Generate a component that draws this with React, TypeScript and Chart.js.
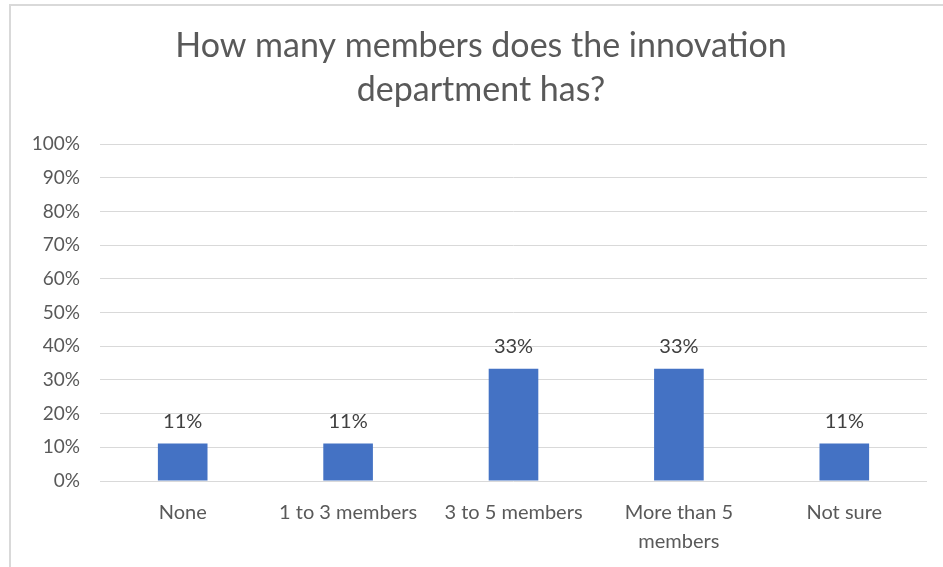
import React, { useEffect, useRef } from "react";
import { Chart, registerables } from "chart.js";

Chart.register(...registerables);

const TITLE_LINES = ["How many members does the innovation", "department has?"];
const CATEGORIES: (string | string[])[] = [
  "None",
  "1 to 3 members",
  "3 to 5 members",
  ["More than 5", "members"],
  "Not sure",
];
const VALUES = [11.11, 11.11, 33.33, 33.33, 11.11];
const Y_MAX = 100;
const Y_STEP = 10;

const FONT = "Lato, 'Open Sans', sans-serif";

const dataLabelPlugin = {
  id: "dataLabels",
  afterDatasetsDraw(chart: any) {
    const ctx = chart.ctx;
    const meta = chart.getDatasetMeta(0);
    ctx.save();
    ctx.fillStyle = "#404040";
    ctx.font = `20px ${FONT}`;
    ctx.textAlign = "center";
    ctx.textBaseline = "alphabetic";
    meta.data.forEach((bar: any, i: number) => {
      const v = chart.data.datasets[0].data[i] as number;
      ctx.fillText(Math.round(v) + "%", bar.x, bar.y - 16);
    });
    ctx.restore();
  },
};

const titlePlugin = {
  id: "centeredTitle",
  afterDraw(chart: any) {
    const ctx = chart.ctx;
    ctx.save();
    ctx.fillStyle = "#595959";
    ctx.font = `34px ${FONT}`;
    ctx.textAlign = "center";
    ctx.textBaseline = "middle";
    TITLE_LINES.forEach((line, i) => {
      ctx.fillText(line, 481, 46 + i * 44);
    });
    ctx.restore();
  },
};

export default function App() {
  const ref = useRef<HTMLCanvasElement | null>(null);
  useEffect(() => {
    if (!ref.current) return;
    const chart = new Chart(ref.current, {
      type: "bar",
      data: {
        labels: CATEGORIES as any,
        datasets: [
          {
            data: VALUES,
            backgroundColor: "#4472C4",
            barPercentage: 0.3,
            categoryPercentage: 1,
          },
        ],
      },
      options: {
        animation: false,
        responsive: false,
        maintainAspectRatio: false,
        layout: { padding: { left: 0, right: 16, top: 144, bottom: -6 } },
        plugins: {
          legend: { display: false },
          tooltip: { enabled: false },
          title: { display: false },
        },
        scales: {
          x: {
            grid: { display: false, drawTicks: false },
            border: { display: false },
            ticks: {
              color: "#595959",
              font: { family: FONT, size: 20, lineHeight: 1.45 },
              padding: 17,
              maxRotation: 0,
              autoSkip: false,
            },
          },
          y: {
            min: 0,
            max: Y_MAX,
            afterFit(scale: any) {
              scale.width = 100;
            },
            grid: { color: "#d9d9d9", lineWidth: 1, drawTicks: false },
            border: { display: false },
            ticks: {
              stepSize: Y_STEP,
              color: "#595959",
              font: { family: FONT, size: 19 },
              padding: 20,
              callback: (v: any) => v + "%",
            },
          },
        },
      },
      plugins: [dataLabelPlugin, titlePlugin],
    });
    return () => chart.destroy();
  }, []);

  return (
    <div
      style={{
        position: "absolute",
        left: 0,
        top: 0,
        width: 943,
        height: 567,
        background: "#fff",
        overflow: "hidden",
      }}
    >
      <div
        style={{
          position: "absolute",
          left: 9,
          top: 4,
          width: 940,
          height: 570,
          borderLeft: "2px solid #d9d9d9",
          borderTop: "2px solid #d9d9d9",
        }}
      />
      <canvas
        ref={ref}
        width={943}
        height={567}
        style={{ position: "absolute", left: 0, top: 0, width: 943, height: 567 }}
      />
    </div>
  );
}
